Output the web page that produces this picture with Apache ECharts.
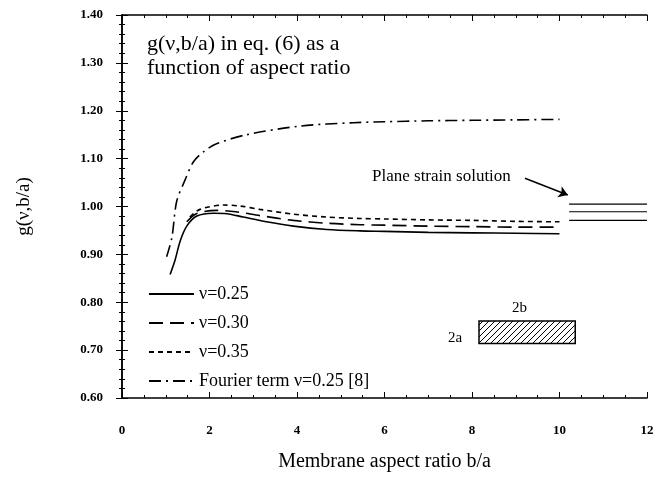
<!DOCTYPE html>
<html>
<head>
<meta charset="utf-8">
<script src="https://cdn.jsdelivr.net/npm/echarts@6/dist/echarts.min.js"></script>
<style>
  html, body { margin: 0; padding: 0; background: #fff; }
  #graphics { width: 669px; height: 477px; }
</style>
</head>
<body>
<div id="graphics"></div>
<script>
// values
const ratio025 = [1.10, 1.21, 1.33, 1.48, 1.71, 2.09, 2.40, 2.77, 3.30, 3.92, 4.68, 5.44, 6, 7, 8, 9, 10];
const g025 = [0.858, 0.887, 0.928, 0.959, 0.980, 0.986, 0.985, 0.978, 0.968, 0.959, 0.952, 0.949, 0.948, 0.946, 0.945, 0.944, 0.943];

const ratio030 = [1.48, 1.70, 2.16, 2.60, 3.15, 3.92, 4.68, 5.44, 6, 7, 8, 9, 10];
const g030 = [0.968, 0.985, 0.992, 0.989, 0.981, 0.971, 0.965, 0.962, 0.961, 0.959, 0.958, 0.957, 0.957];

const ratio035 = [1.55, 1.78, 2.32, 2.70, 3.15, 3.92, 4.68, 5.44, 6, 7, 8, 9, 10];
const g035 = [0.978, 0.994, 1.003, 1.001, 0.994, 0.984, 0.978, 0.975, 0.974, 0.972, 0.971, 0.969, 0.968];

const ratioFourier = [1.02, 1.14, 1.25, 1.44, 1.63, 1.86, 2.16, 2.85, 4.07, 5.29, 6, 7, 8, 9, 10];
const gFourier = [0.895, 0.935, 1.011, 1.055, 1.093, 1.114, 1.131, 1.150, 1.168, 1.175, 1.177, 1.179, 1.180, 1.181, 1.182];

// plane strain solution (short lines at the right edge)
const planeStrainRange = [10.22, 12];
const planeStrainValues = [1.005, 0.989, 0.971];

const legendNames = ['ν=0.25', 'ν=0.30', 'ν=0.35', 'Fourier term ν=0.25 [8]'];

const serif = 'Liberation Serif, Times New Roman, serif';

function pairs(xs, ys) {
    let out = [];
    for (let i = 0; i < xs.length; i++) {
        out.push([xs[i], ys[i]]);
    }
    return out;
}

// hatch pattern for the little membrane sketch
function hatch() {
    let c = document.createElement('canvas');
    c.width = 6;
    c.height = 6;
    let ctx = c.getContext('2d');
    ctx.fillStyle = '#fff';
    ctx.fillRect(0, 0, 6, 6);
    ctx.strokeStyle = '#000';
    ctx.lineWidth = 1;
    ctx.beginPath();
    ctx.moveTo(0, 6); ctx.lineTo(6, 0);
    ctx.moveTo(-3, 3); ctx.lineTo(3, -3);
    ctx.moveTo(3, 9); ctx.lineTo(9, 3);
    ctx.stroke();
    return c;
}

var myChart = echarts.init(document.getElementById('graphics'));

let curveStyle = function (type) {
    return { color: '#000', width: 1.6, type: type };
};

let series = [
    { name: legendNames[0], type: 'line', symbol: 'none', smooth: 0.3,
      data: pairs(ratio025, g025), lineStyle: curveStyle('solid'), itemStyle: { color: '#000' } },
    { name: legendNames[1], type: 'line', symbol: 'none', smooth: 0.3,
      data: pairs(ratio030, g030), lineStyle: curveStyle([14, 7]), itemStyle: { color: '#000' } },
    { name: legendNames[2], type: 'line', symbol: 'none', smooth: 0.3,
      data: pairs(ratio035, g035), lineStyle: curveStyle([5, 4]), itemStyle: { color: '#000' } },
    { name: legendNames[3], type: 'line', symbol: 'none', smooth: 0.3,
      data: pairs(ratioFourier, gFourier), lineStyle: curveStyle([12, 5, 2, 5]), itemStyle: { color: '#000' } }
];

for (let i = 0; i < planeStrainValues.length; i++) {
    series.push({
        name: 'plane' + i, type: 'line', symbol: 'none', silent: true,
        data: [[planeStrainRange[0], planeStrainValues[i]], [planeStrainRange[1], planeStrainValues[i]]],
        lineStyle: { color: '#000', width: 1.2 }
    });
}

// arrow and hatched rectangle
series.push({
    name: 'notes', type: 'line', symbol: 'none', data: [], silent: true,
    markLine: {
        silent: true, symbol: ['none', 'arrow'], symbolSize: 9,
        label: { show: false },
        lineStyle: { color: '#000', width: 1.5, type: 'solid' },
        data: [[{ coord: [9.21, 1.059] }, { coord: [10.19, 1.024] }]]
    },
    markArea: {
        silent: true,
        itemStyle: { color: { image: hatch(), repeat: 'repeat' }, borderColor: '#000', borderWidth: 1.5 },
        data: [[{ coord: [8.16, 0.761] }, { coord: [10.36, 0.714] }]]
    }
});

var option = {
    backgroundColor: '#fff',
    animation: false,
    grid: { left: 122, right: 22, top: 15, bottom: 75 },
    legend: {
        data: legendNames,
        orient: 'vertical',
        left: 143,
        top: 280,
        itemWidth: 45,
        itemHeight: 12,
        itemGap: 11,
        itemStyle: { opacity: 0 },
        textStyle: { fontFamily: serif, fontSize: 18, color: '#000' }
    },
    xAxis: [{
        type: 'value', min: 0, max: 12, interval: 2,
        name: 'Membrane aspect ratio b/a', nameLocation: 'middle', nameGap: 54,
        nameTextStyle: { fontFamily: serif, fontSize: 20, color: '#000' },
        axisLine: { lineStyle: { color: '#000', width: 1.5 } },
        axisTick: { inside: true, length: 6, lineStyle: { color: '#000' } },
        minorTick: { show: true, splitNumber: 4, length: 3, lineStyle: { color: '#000' } },
        axisLabel: { margin: 26, fontFamily: serif, fontSize: 13, fontWeight: 'bold', color: '#000' },
        splitLine: { show: false }
    }, {
        type: 'value', min: 0, max: 12, interval: 2, position: 'top',
        axisLine: { lineStyle: { color: '#000', width: 1.5 } },
        axisTick: { inside: true, length: 6, lineStyle: { color: '#000' } },
        minorTick: { show: true, splitNumber: 4, length: 3, lineStyle: { color: '#000' } },
        axisLabel: { show: false },
        splitLine: { show: false }
    }],
    yAxis: [{
        type: 'value', min: 0.6, max: 1.4, interval: 0.1,
        name: 'g(ν,b/a)', nameLocation: 'middle', nameGap: 88,
        nameTextStyle: { fontFamily: serif, fontSize: 19, color: '#000' },
        axisLine: { show: true, lineStyle: { color: '#000', width: 1.5 } },
        axisTick: { show: true, inside: true, length: 6, lineStyle: { color: '#000' } },
        minorTick: { show: true, splitNumber: 5, length: 3, lineStyle: { color: '#000' } },
        axisLabel: { margin: 19, fontFamily: serif, fontSize: 13, fontWeight: 'bold', color: '#000',
                     formatter: function (v) { return v.toFixed(2); } },
        splitLine: { show: false }
    }, {
        type: 'value', min: 0.6, max: 1.4, interval: 0.1, position: 'right',
        axisLine: { show: true, lineStyle: { color: '#000', width: 1.5 } },
        axisTick: { show: true, inside: true, length: 6, lineStyle: { color: '#000' } },
        minorTick: { show: true, splitNumber: 5, length: 3, lineStyle: { color: '#000' } },
        axisLabel: { show: false },
        splitLine: { show: false }
    }],
    graphic: [
        { type: 'text', left: 147, top: 32,
          style: { text: 'g(ν,b/a) in eq. (6) as a\nfunction of aspect ratio', font: '22px ' + serif, fill: '#000', lineHeight: 24 } },
        { type: 'text', left: 372, top: 168,
          style: { text: 'Plane strain solution', font: '17px ' + serif, fill: '#000' } },
        { type: 'text', left: 512, top: 301,
          style: { text: '2b', font: '15px ' + serif, fill: '#000' } },
        { type: 'text', left: 448, top: 331,
          style: { text: '2a', font: '15px ' + serif, fill: '#000' } }
    ],
    series: series
};

myChart.setOption(option);
</script>
</body>
</html>
